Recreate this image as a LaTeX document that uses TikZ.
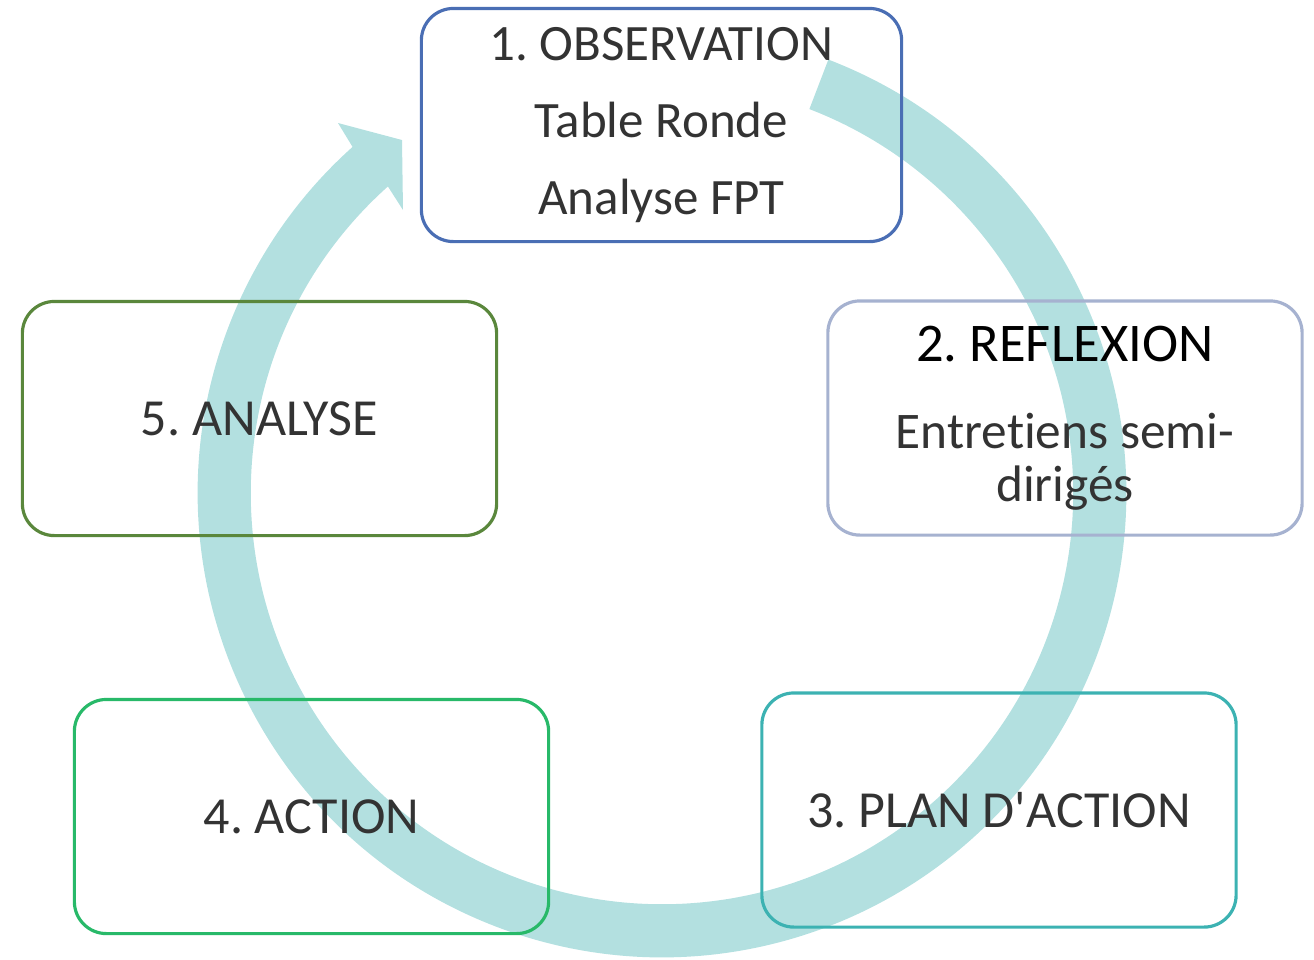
\documentclass[tikz,border=0pt]{standalone}
\usepackage{fontspec}
\setmainfont{Carlito}[Ligatures=NoCommon]
\usepackage{xcolor}

\definecolor{cyclefill}{HTML}{B3E0E0}
\definecolor{obsblue}{HTML}{4A6EB4}
\definecolor{reflgray}{HTML}{A6B2D0}
\definecolor{planteal}{HTML}{3CB2B2}
\definecolor{actgreen}{HTML}{28B969}
\definecolor{anaolive}{HTML}{5A873C}
\definecolor{textgray}{HTML}{333333}

\begin{document}
\frenchspacing
\begin{tikzpicture}[
    x=0.01cm, y=0.01cm,
    font=\fontsize{14.8}{17}\selectfont,
    stagebox/.style={draw=#1, line width=0.9pt, rectangle, rounded corners=0.32cm,
        minimum width=4.74cm, minimum height=2.34cm, inner sep=0pt,
        align=center, text=textgray},
]

% Canvas
\useasboundingbox (0,0) rectangle (1314,-959);
\coordinate (ctr) at (662,-493);

% Circular arrow
\fill[cyclefill] ([shift={(69:4.64cm)}]ctr)
    arc[start angle=69, end angle=-228.2, radius=4.64cm]
    -- (338,-123) -- (402,-140) -- (403,-210)
    -- ([shift={(131.8:4.11cm)}]ctr)
    arc[start angle=-228.2, end angle=69, radius=4.11cm] -- cycle;

% Stage 1: Observation
\node[stagebox=obsblue, minimum width=4.8cm, minimum height=2.33cm,
      font=\fontsize{14.5}{21.8}\selectfont]
      (obs) at (661.5,-125) {1. OBSERVATION\\Table Ronde\\Analyse FPT};

% Stage 2: Reflexion
\node[stagebox=reflgray, font=\fontsize{14.6}{15}\selectfont]
      (refl) at (1065,-418)
      {{\fontsize{15.5}{15}\selectfont\color{black}2. REFLEXION}\\[9.7pt]Entretiens semi-\\dirig\'es};

% Stage 3: Plan d'action
\node[stagebox=planteal] (plan) at (999,-810) {3. PLAN D\textquotesingle ACTION};

% Stage 4: Action
\node[stagebox=actgreen] (act) at (311.5,-816.5) {4. ACTION};

% Stage 5: Analyse
\node[stagebox=anaolive] (ana) at (259.5,-418.5) {5. ANALYSE};

\end{tikzpicture}
\end{document}
